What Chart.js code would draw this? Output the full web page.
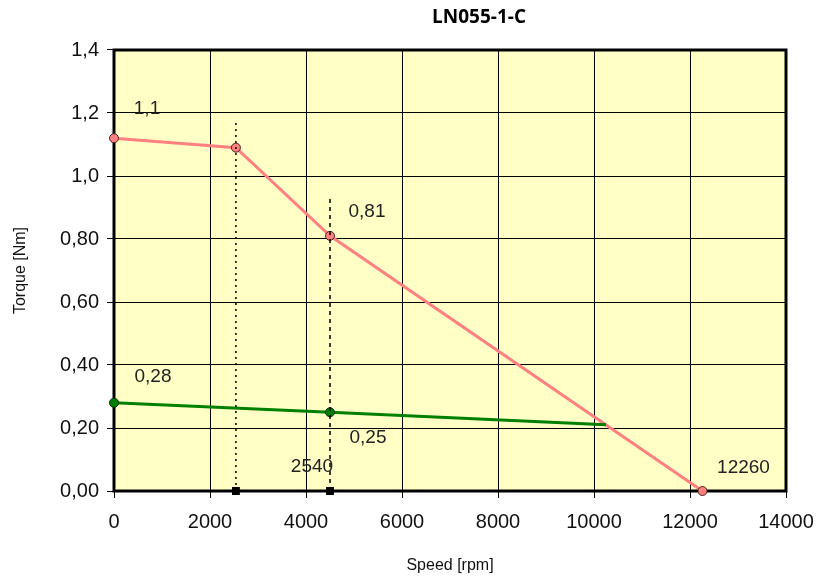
<!DOCTYPE html>
<html>
<head>
<meta charset="utf-8">
<script src="https://cdn.jsdelivr.net/npm/chart.js@4/dist/chart.umd.min.js"></script>
<style>
	html, body { margin:0; padding:0; background:#fff; }
	#wrap { width:817px; height:584px; }
</style>
</head>
<body>
<div id="wrap"><canvas id="chart" width="817" height="584"></canvas></div>
<script>
// LN055-1-C torque / speed curve
const TITLE = 'LN055-1-C';

// peak torque curve (red)
const peakSpeed = [0, 2540, 4500, 12260];
const peakTorque = [1.12, 1.09, 0.81, 0];

// continuous torque curve (green)
const contSpeed = [0, 4500, 10250];
const contTorque = [0.28, 0.25, 0.21];

// vertical guides at rated speeds
const guideSpeed = [2540, 4500];
const guideTop = [1.18, 0.93];

const xTicks = [0, 2000, 4000, 6000, 8000, 10000, 12000, 14000];
const yTickLabels = ['0,00', '0,20', '0,40', '0,60', '0,80', '1,0', '1,2', '1,4'];

// point annotations: [dataset, index, text]
const pointLabels = [
	['peak', 0, '1,1'],
	['peak', 2, '0,81'],
	['cont', 0, '0,28'],
	['cont', 1, '0,25'],
	['guide2', 0, '2540'],
	['peak', 3, '12260']
];

(function(){
	const FONT = '"Liberation Sans", Arial, sans-serif';
	const PLOT_BG = '#FFFFC6';
	const RED = '#FF8080';
	const GREEN = '#008000';

	const toXY = (xs, ys) => xs.map((x, i) => ({ x, y: ys[i] }));

	const datasets = [
		{
			id: 'guide1',
			data: [{ x: guideSpeed[0], y: 0 }, { x: guideSpeed[0], y: guideTop[0] }],
			borderColor: '#000', borderWidth: 1.5, borderDash: [2, 4],
			pointRadius: [4.5, 0], pointStyle: 'rect', pointBackgroundColor: '#000', pointBorderColor: '#000'
		},
		{
			id: 'guide2',
			data: [{ x: guideSpeed[1], y: 0 }, { x: guideSpeed[1], y: guideTop[1] }],
			borderColor: '#000', borderWidth: 1.5, borderDash: [4, 4],
			pointRadius: [4.5, 0], pointStyle: 'rect', pointBackgroundColor: '#000', pointBorderColor: '#000'
		},
		{
			id: 'cont',
			data: toXY(contSpeed, contTorque),
			borderColor: GREEN, borderWidth: 3,
			pointRadius: [4.5, 4.5, 0], pointBackgroundColor: GREEN, pointBorderColor: '#003000', pointBorderWidth: 1
		},
		{
			id: 'peak',
			data: toXY(peakSpeed, peakTorque),
			borderColor: RED, borderWidth: 3,
			pointRadius: 4.5, pointBackgroundColor: RED, pointBorderColor: '#502020', pointBorderWidth: 1
		}
	];
	datasets.forEach(d => { d.showLine = true; d.fill = false; d.tension = 0; d.clip = false; });

	const plotFrame = {
		id: 'plotFrame',
		beforeDraw(chart){
			const { ctx, chartArea: a } = chart;
			ctx.save();
			ctx.fillStyle = PLOT_BG;
			ctx.fillRect(a.left, a.top, a.right - a.left, a.bottom - a.top);
			ctx.restore();
		},
		beforeDatasetsDraw(chart){
			const { ctx, chartArea: a } = chart;
			ctx.save();
			ctx.strokeStyle = '#000';
			ctx.lineWidth = 3;
			ctx.strokeRect(a.left, a.top, a.right - a.left, a.bottom - a.top);
			ctx.restore();
		},
		afterDraw(chart){
			const { ctx, chartArea: a } = chart;
			ctx.save();
			// title
			ctx.fillStyle = '#000';
			ctx.font = 'bold 19px "Open Sans", sans-serif';
			ctx.textAlign = 'center';
			ctx.textBaseline = 'middle';
			ctx.fillText(TITLE, (a.left + a.right) / 2 + 29, 18);

			// point labels
			const offsets = [[33, -29], [37, -24], [39, -26], [38, 26], [-18, -24], [41, -23]];
			ctx.font = '19px ' + FONT;
			ctx.fillStyle = '#222';
			pointLabels.forEach(([id, idx, text], i) => {
				const di = datasets.findIndex(d => d.id === id);
				const pt = chart.getDatasetMeta(di).data[idx];
				ctx.fillText(text, pt.x + offsets[i][0], pt.y + offsets[i][1]);
			});
			ctx.restore();
		}
	};

	new Chart(document.getElementById('chart'), {
		type: 'scatter',
		data: { datasets },
		options: {
			responsive: false,
			animation: false,
			layout: { padding: { top: 50, right: 31, bottom: 0, left: 0 } },
			plugins: {
				legend: { display: false },
				tooltip: { enabled: false },
				title: { display: false }
			},
			scales: {
				x: {
					type: 'linear', min: 0, max: 14000,
					afterBuildTicks: s => { s.ticks = xTicks.map(v => ({ value: v })); },
					afterFit: s => { s.height = 93; s.paddingRight = 0; },
					ticks: { color: '#111', font: { family: FONT, size: 20 }, padding: 12, maxRotation: 0, callback: v => String(v) },
					grid: { color: '#000', lineWidth: 1, tickLength: 7, tickColor: '#000' },
					border: { display: false },
					title: { display: true, text: 'Speed [rpm]', color: '#111', font: { family: FONT, size: 16 }, padding: { top: 0, bottom: 9 } }
				},
				y: {
					type: 'linear', min: 0, max: 1.4,
					afterBuildTicks: s => { s.ticks = yTickLabels.map((_, i) => ({ value: i * 0.2 })); },
					afterFit: s => { s.width = 114; s.paddingTop = 0; },
					ticks: { color: '#111', font: { family: FONT, size: 20 }, padding: 8, callback: (v, i) => yTickLabels[i] },
					grid: { color: '#000', lineWidth: 1, tickLength: 7, tickColor: '#000' },
					border: { display: false },
					title: { display: true, text: 'Torque [Nm]', color: '#111', font: { family: FONT, size: 16 }, padding: { top: 11, bottom: 0 } }
				}
			}
		},
		plugins: [plotFrame]
	});
})();
</script>
</body>
</html>
